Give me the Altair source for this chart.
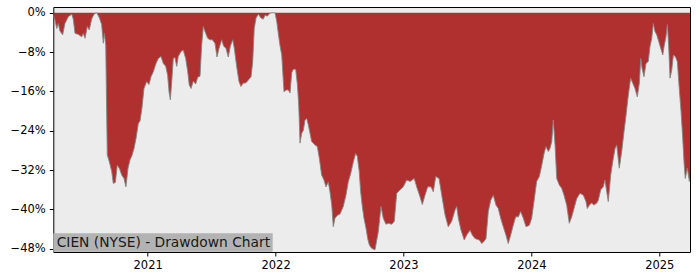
import altair as alt
import pandas as pd

# decimal-year positions and drawdown (%)
years = [
    2020.262, 2020.275, 2020.289, 2020.301, 2020.314, 2020.335, 2020.353, 2020.379, 2020.406, 2020.418,
    2020.432, 2020.457, 2020.484, 2020.496, 2020.510, 2020.528, 2020.543, 2020.562, 2020.580, 2020.601,
    2020.622, 2020.640, 2020.653, 2020.661, 2020.672, 2020.684, 2020.700, 2020.719, 2020.731, 2020.747,
    2020.762, 2020.778, 2020.797, 2020.815, 2020.830, 2020.846, 2020.862, 2020.877, 2020.893, 2020.909,
    2020.927, 2020.940, 2020.955, 2020.971, 2020.992, 2021.010, 2021.026, 2021.044, 2021.065, 2021.083,
    2021.104, 2021.122, 2021.141, 2021.156, 2021.167, 2021.177, 2021.188, 2021.200, 2021.213, 2021.227,
    2021.239, 2021.260, 2021.278, 2021.297, 2021.313, 2021.325, 2021.339, 2021.357, 2021.375, 2021.391,
    2021.409, 2021.422, 2021.435, 2021.448, 2021.469, 2021.487, 2021.505, 2021.526, 2021.542, 2021.557,
    2021.579, 2021.594, 2021.612, 2021.630, 2021.646, 2021.665, 2021.677, 2021.696, 2021.714, 2021.729,
    2021.747, 2021.766, 2021.787, 2021.808, 2021.821, 2021.833, 2021.847, 2021.865, 2021.886, 2021.904,
    2021.917, 2021.935, 2021.956, 2021.982, 2021.995, 2022.009, 2022.021, 2022.034, 2022.048, 2022.056,
    2022.066, 2022.081, 2022.099, 2022.113, 2022.126, 2022.138, 2022.157, 2022.170, 2022.181, 2022.191,
    2022.204, 2022.217, 2022.230, 2022.243, 2022.256, 2022.269, 2022.282, 2022.295, 2022.308, 2022.326,
    2022.342, 2022.360, 2022.378, 2022.394, 2022.412, 2022.425, 2022.439, 2022.451, 2022.464, 2022.482,
    2022.504, 2022.517, 2022.529, 2022.550, 2022.568, 2022.587, 2022.608, 2022.626, 2022.639, 2022.654,
    2022.665, 2022.678, 2022.691, 2022.707, 2022.720, 2022.733, 2022.751, 2022.777, 2022.803, 2022.824,
    2022.842, 2022.863, 2022.881, 2022.908, 2022.928, 2022.947, 2022.973, 2022.998, 2023.025, 2023.051,
    2023.084, 2023.103, 2023.129, 2023.147, 2023.168, 2023.189, 2023.215, 2023.233, 2023.252, 2023.278,
    2023.299, 2023.325, 2023.350, 2023.377, 2023.403, 2023.416, 2023.429, 2023.450, 2023.475, 2023.494,
    2023.520, 2023.538, 2023.559, 2023.593, 2023.611, 2023.629, 2023.645, 2023.663, 2023.682, 2023.702,
    2023.723, 2023.741, 2023.760, 2023.780, 2023.801, 2023.819, 2023.838, 2023.858, 2023.877, 2023.898,
    2023.916, 2023.937, 2023.958, 2023.984, 2024.002, 2024.020, 2024.041, 2024.062, 2024.081, 2024.099,
    2024.114, 2024.132, 2024.145, 2024.159, 2024.171, 2024.185, 2024.198, 2024.218, 2024.237, 2024.255,
    2024.276, 2024.296, 2024.315, 2024.333, 2024.354, 2024.380, 2024.406, 2024.427, 2024.437, 2024.453,
    2024.471, 2024.489, 2024.511, 2024.523, 2024.542, 2024.562, 2024.575, 2024.589, 2024.601, 2024.620,
    2024.636, 2024.654, 2024.667, 2024.687, 2024.706, 2024.724, 2024.740, 2024.758, 2024.776, 2024.792,
    2024.810, 2024.828, 2024.844, 2024.855, 2024.865, 2024.880, 2024.896, 2024.914, 2024.927, 2024.941,
    2024.953, 2024.966, 2024.980, 2024.995, 2025.011, 2025.027, 2025.037, 2025.052, 2025.063, 2025.073,
    2025.084, 2025.097, 2025.110, 2025.125, 2025.141, 2025.156, 2025.170, 2025.183, 2025.193, 2025.203,
    2025.219, 2025.235, 2025.240,
]
drawdown = [
    -0.5, -1.5, -3.2, -2.2, -3.7, -4.5, -2.2, -0.8, -0.3, -1.3,
    -4.2, -4.4, -4.9, -4.2, -5.2, -2.8, -3.5, -1.3, -0.3, 0.0,
    -1.0, -2.4, -6.2, -4.2, -6.6, -28.9, -30.3, -32.3, -34.7, -34.5,
    -31.0, -31.6, -33.0, -33.7, -35.4, -31.6, -29.9, -29.0, -27.6, -25.5,
    -22.5, -22.0, -19.4, -15.4, -14.0, -14.6, -13.0, -12.0, -10.3, -9.3,
    -8.9, -10.3, -10.9, -12.7, -16.1, -17.7, -14.0, -9.3, -9.1, -10.9,
    -8.9, -7.9, -7.6, -9.3, -12.0, -14.7, -15.4, -13.9, -14.5, -13.1,
    -12.9, -6.6, -2.8, -3.8, -5.2, -5.5, -5.5, -6.2, -9.0, -7.3,
    -5.5, -6.8, -7.2, -9.0, -6.8, -5.5, -7.2, -11.0, -14.0, -15.0,
    -14.3, -14.3, -13.7, -13.0, -10.0, -3.2, -1.1, -0.3, -1.1, -1.3,
    -0.5, -0.7, -0.1, 0.0, 0.0, -1.8, -4.2, -6.6, -8.6, -12.0,
    -16.1, -15.7, -15.7, -16.3, -12.2, -11.5, -11.5, -14.5, -18.8, -26.5,
    -24.5, -23.9, -21.8, -21.5, -22.8, -24.5, -26.2, -26.5, -26.9, -27.2,
    -29.6, -33.0, -34.0, -35.4, -34.4, -36.4, -39.1, -43.5, -41.8, -41.2,
    -40.9, -40.1, -39.4, -37.1, -34.4, -32.7, -30.3, -28.6, -29.2, -32.3,
    -36.4, -39.4, -41.8, -43.8, -45.9, -47.2, -47.9, -48.2, -44.5, -39.4,
    -41.8, -43.0, -42.8, -43.0, -42.4, -36.7, -36.0, -35.4, -34.0, -34.3,
    -33.7, -35.4, -37.4, -39.0, -37.1, -35.4, -35.4, -36.4, -33.3, -33.7,
    -37.1, -41.1, -43.5, -42.4, -40.1, -39.4, -41.8, -44.2, -46.2, -45.2,
    -44.2, -45.2, -45.9, -46.2, -46.9, -46.5, -45.9, -40.4, -38.1, -37.1,
    -39.1, -39.8, -41.8, -43.5, -45.2, -46.9, -45.2, -43.2, -41.5, -41.5,
    -40.4, -41.8, -43.5, -43.2, -41.8, -38.4, -34.3, -33.3, -31.0, -28.6,
    -27.2, -28.2, -27.6, -26.2, -21.8, -26.9, -33.7, -35.0, -35.7, -37.1,
    -39.1, -42.8, -41.5, -39.8, -37.8, -36.7, -37.1, -38.4, -39.8, -39.1,
    -38.7, -39.1, -38.7, -38.1, -36.0, -35.4, -34.0, -36.4, -38.4, -33.0,
    -30.3, -27.6, -26.9, -31.6, -28.2, -24.2, -20.8, -16.7, -13.3, -14.3,
    -15.4, -17.1, -14.3, -9.3, -11.3, -13.0, -10.3, -9.9, -6.9, -5.2,
    -2.2, -3.8, -4.5, -5.8, -7.2, -8.6, -6.9, -4.9, -2.4, -6.6,
    -13.3, -11.7, -8.6, -8.9, -9.9, -15.4, -20.1, -25.5, -30.3, -33.7,
    -31.6, -34.3, -33.5,
]
x_ticks = [2021, 2022, 2023, 2024, 2025]
y_ticks = [0, -8, -16, -24, -32, -40, -48]
x_domain = [2020.262, 2025.240]
y_domain = [-48.64, 1.16]
label_text = ["CIEN (NYSE) - Drawdown Chart"]

df = pd.DataFrame({"year": years, "dd": drawdown})

FONT = "DejaVu Sans"

x_enc = alt.X(
    "year:Q",
    scale=alt.Scale(domain=x_domain, nice=False, zero=False),
    axis=alt.Axis(values=x_ticks, format="d", title=None, grid=False, domain=False,
                  tickColor="black", tickSize=4, tickWidth=1, labelPadding=3,
                  labelFont=FONT, labelFontSize=11.5, labelColor="black"),
)
y_enc = alt.Y(
    "dd:Q",
    scale=alt.Scale(domain=y_domain, nice=False, zero=False),
    axis=alt.Axis(values=y_ticks, title=None, grid=False, domain=False,
                  labelExpr="datum.value == 0 ? '0%' : '\u2212' + abs(datum.value) + '%'",
                  tickColor="black", tickSize=4, tickWidth=1, labelPadding=4,
                  labelFont=FONT, labelFontSize=11.5, labelColor="black"),
)

base = alt.Chart(df)
area = base.mark_area(color="#b03030", opacity=1, clip=True).encode(
    x=x_enc, y=y_enc, y2=alt.datum(0)
)
edge = base.mark_line(color="#858585", strokeWidth=0.9, clip=True).encode(x=x_enc, y=y_enc)

lab_df = pd.DataFrame({"t": label_text})
box = alt.Chart(lab_df).mark_rect(color="#b3b3b3").encode(
    x=alt.value(0), x2=alt.value(219.4), y=alt.value(226.3), y2=alt.value(244.7)
)
txt = alt.Chart(lab_df).mark_text(
    align="left", baseline="alphabetic", font=FONT, fontSize=13.8, color="#1a1a1a"
).encode(x=alt.value(3.4), y=alt.value(240.3), text="t:N")

chart = (
    alt.layer(area, edge, box, txt)
    .properties(
        width=636.7,
        height=245,
        autosize="none",
        padding={"left": 53.3, "top": 7, "right": 10, "bottom": 28},
        background="white",
    )
    .configure_view(fill="#ececec", stroke="black", strokeWidth=1)
)

chart.save("out.html", embed_options={"renderer": "svg", "actions": False})
